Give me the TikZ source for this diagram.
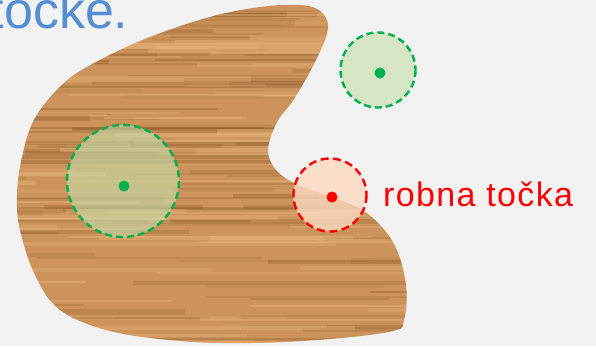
\documentclass[tikz,border=0pt]{standalone}
\usepackage{fontspec}
\setmainfont{Liberation Sans}
\definecolor{bgc}{RGB}{242,242,242}
\definecolor{woodbase}{RGB}{204,148,92}
\definecolor{wooddark}{RGB}{125,75,28}
\definecolor{woodlight}{RGB}{236,184,130}
\definecolor{grn}{RGB}{0,176,80}
\definecolor{grnfill}{RGB}{196,222,168}
\definecolor{redfill}{RGB}{252,218,192}
\definecolor{blu}{RGB}{85,142,213}
\tikzset{
  gcirc/.style={draw=grn, line width=2.4pt, dash pattern=on 7pt off 4pt, fill=grnfill, fill opacity=0.6, draw opacity=1},
  rcirc/.style={draw=red, line width=2.4pt, dash pattern=on 8pt off 4.5pt, fill=redfill, fill opacity=0.8, draw opacity=1},
  gdot/.style={fill=grn},
  rdot/.style={fill=red},
}
\begin{document}
\begin{tikzpicture}[x=1pt,y=-1pt]
\useasboundingbox (0,0) rectangle (596,346);
\fill[bgc] (0,0) rectangle (596,346);
\node[anchor=base west, text=blu, inner sep=0pt, font=\fontsize{52}{60}\selectfont] (title) at (-10.5,28) {točke.};
\begin{scope}
\clip plot[smooth cycle, tension=0.6] coordinates {
 (260,7) (300,5) (320,11) (328,28) (316,60) (294,99) (277,122) (268,150) (276,170) (298,185)
 (335,198) (368,214) (394,244) (406,285) (404,320) (393,331) (330,339) (250,343) (180,341)
 (110,331) (60,310) (35,275) (20,230) (17,195) (22,157) (35,118) (65,82) (100,60) (150,37) (210,17)};
\fill[woodbase] (0,0) rectangle (596,346);
\pgfmathsetseed{11}
\foreach \k in {1,...,110} {
  \pgfmathsetmacro\yy{random(0,346)}
  \pgfmathsetmacro\xa{random(-150,420)}
  \pgfmathsetmacro\ww{1.5+4*rnd}
  \pgfmathsetmacro\len{random(100,400)}
  \pgfmathsetmacro\op{0.08+0.22*rnd}
  \draw[wooddark, opacity=\op, line width=\ww pt] (\xa,\yy) -- ++(\len,0);
}
\foreach \k in {1,...,90} {
  \pgfmathsetmacro\yy{random(0,346)}
  \pgfmathsetmacro\xa{random(-150,420)}
  \pgfmathsetmacro\ww{1.5+4*rnd}
  \pgfmathsetmacro\len{random(100,400)}
  \pgfmathsetmacro\op{0.15+0.3*rnd}
  \draw[woodlight, opacity=\op, line width=\ww pt] (\xa,\yy) -- ++(\len,0);
}
\end{scope}
\path[gcirc] (123,181) circle (56);
\fill[gdot] (124,186) circle (5.5);
\path[gcirc] (378,70) circle (37.5);
\fill[gdot] (380,73) circle (5.5);
\path[rcirc] (330,195) circle (36.5);
\fill[rdot] (332,197) circle (5.5);
\node[anchor=base west, text=red, inner sep=0pt, font=\addfontfeatures{LetterSpace=4}\fontsize{34}{40}\selectfont] (label) at (383,206) {robna točka};
\end{tikzpicture}
\end{document}
